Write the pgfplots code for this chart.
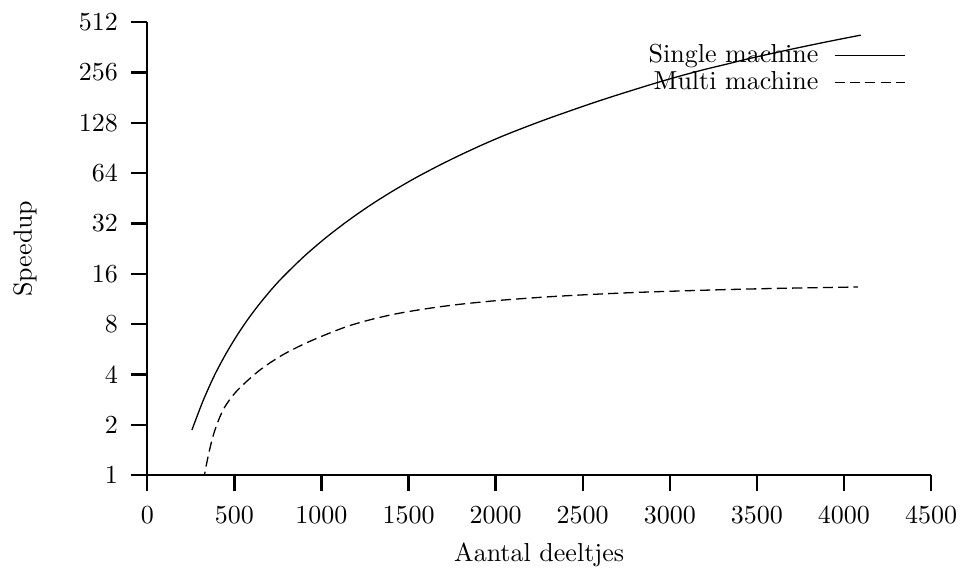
\documentclass[border=0pt]{standalone}
\usepackage{pgfplots}
\pgfplotsset{compat=1.18}
\begin{document}
\begin{tikzpicture}
\begin{axis}[
  name=ax,
  scale only axis,
  width=301.4pt, height=174.1pt,
  axis lines*=left,
  axis line style={line width=0.9pt},
  every tick/.style={line width=0.9pt, black},
  tick align=outside,
  major tick length=6.2pt,
  xmin=0, xmax=4500,
  xtick={0,500,...,4500},
  scaled x ticks=false,
  /pgf/number format/1000 sep={},
  ymode=log, log basis y=2,
  ymin=1, ymax=512,
  ytick={1,2,4,8,16,32,64,128,256,512},
  yticklabels={1,2,4,8,16,32,64,128,256,512},
  yticklabel style={xshift=-1.6pt},
  xticklabel style={yshift=-2.6pt},
  xlabel={Aantal deeltjes},
  ylabel={Speedup},
  xlabel style={at={(axis description cs:0.5,-0.177)}, anchor=center},
  ylabel style={at={(axis description cs:-0.156,0.5)}, anchor=center},
  legend style={at={(rel axis cs:0.978,0.975)}, anchor=north east, draw=none, fill=none,
    legend plot pos=right, cells={anchor=east}, row sep=-2.3pt, column sep=4pt},
  legend image code/.code={\draw[#1] (0pt,0pt) -- (27pt,0pt);},
]
\addplot[black, line width=0.5pt, smooth] coordinates {
(256,1.86) (320,2.78) (384,3.92) (448,5.24) (512,6.77) (576,8.51) (640,10.44) (704,12.58) (768,14.93) (896,20.17) (1024,26.26) (1152,33.25) (1280,41.19) (1408,49.97) (1536,59.71) (1664,70.28) (1792,81.8) (1920,94.3) (2048,107.6) (2176,121.4) (2304,136.2) (2432,151.8) (2560,168.8) (2688,186.6) (2816,205.5) (2944,225.7) (3072,246.4) (3200,267.4) (3328,288.0) (3456,310.8) (3584,333) (3712,356) (3840,379.8) (3968,404) (4096,429)
};
\addlegendentry{Single machine}
\addplot[black, line width=0.5pt, smooth, dash pattern=on 3.9pt off 2pt] coordinates {
(300,0.6) (331,1.04) (378,1.72) (435,2.45) (512,3.17) (640,4.2) (768,5.17) (896,6.06) (1024,6.92) (1152,7.78) (1280,8.50) (1408,9.13) (1536,9.65) (1664,10.11) (1792,10.51) (1920,10.85) (2048,11.16) (2304,11.66) (2560,12.06) (2816,12.39) (3072,12.65) (3328,12.88) (3584,13.07) (3840,13.22) (4080,13.35)
};
\addlegendentry{Multi machine}
\end{axis}
\pgfresetboundingbox
\path[use as bounding box] ([xshift=-56.65pt,yshift=-37.7pt]ax.south west) rectangle ([xshift=14.2pt,yshift=8.58pt]ax.north east);
\end{tikzpicture}
\end{document}
